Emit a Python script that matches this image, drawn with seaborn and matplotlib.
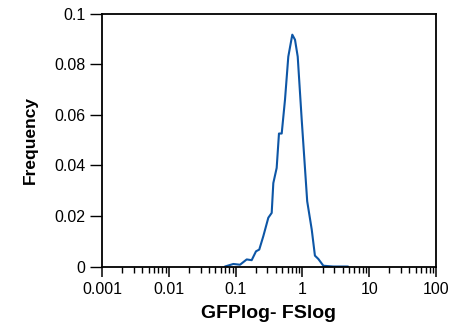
import matplotlib
matplotlib.use("Agg")
import matplotlib.pyplot as plt
from matplotlib.ticker import FixedLocator, FixedFormatter, LogLocator, NullFormatter
import seaborn as sns
import pandas as pd

# GFP/FS ratio distribution (log-binned frequency)
ratio = [0.0693, 0.0925, 0.1164, 0.1466, 0.174, 0.202, 0.226, 0.260, 0.309,
         0.347, 0.367, 0.412, 0.446, 0.490, 0.549, 0.615, 0.706, 0.775,
         0.851, 0.977, 1.18, 1.38, 1.54, 1.73, 2.06, 2.90, 4.82]
frequency = [0.0, 0.001, 0.0007, 0.0028, 0.0025, 0.006, 0.0067, 0.012, 0.0193,
             0.0212, 0.033, 0.039, 0.0526, 0.0526, 0.066, 0.083, 0.0917, 0.0897,
             0.083, 0.058, 0.0258, 0.0146, 0.0043, 0.003, 0.0003, 0.0, 0.0]

x_ticks = [0.001, 0.01, 0.1, 1, 10, 100]
x_tick_labels = ["0.001", "0.01", "0.1", "1", "10", "100"]
y_ticks = [0, 0.02, 0.04, 0.06, 0.08, 0.1]
y_tick_labels = ["0", "0.02", "0.04", "0.06", "0.08", "0.1"]

df = pd.DataFrame({"ratio": ratio, "frequency": frequency})

sns.set_style("ticks")
plt.rcParams["font.family"] = ["Liberation Sans", "DejaVu Sans"]
plt.rcParams["text.color"] = "black"
plt.rcParams["axes.labelcolor"] = "black"
plt.rcParams["xtick.color"] = "black"
plt.rcParams["ytick.color"] = "black"

fig = plt.figure(figsize=(4.51, 3.23), dpi=100)
ax = fig.add_axes([0.2262, 0.1749, 0.9667 - 0.2262, 0.9576 - 0.1749])

sns.lineplot(data=df, x="ratio", y="frequency", ax=ax, color="#0d56a6",
             linewidth=1.5, estimator=None, sort=False)

ax.set_xscale("log")
ax.set_xlim(0.001, 100)
ax.set_ylim(0, 0.1)

ax.xaxis.set_major_locator(FixedLocator(x_ticks))
ax.xaxis.set_major_formatter(FixedFormatter(x_tick_labels))
ax.xaxis.set_minor_locator(LogLocator(base=10, subs=range(2, 10), numticks=20))
ax.xaxis.set_minor_formatter(NullFormatter())
ax.yaxis.set_major_locator(FixedLocator(y_ticks))
ax.yaxis.set_major_formatter(FixedFormatter(y_tick_labels))

for side in ["left", "bottom", "top", "right"]:
    ax.spines[side].set_visible(True)
    ax.spines[side].set_color("black")
    ax.spines[side].set_linewidth(1.3)

ax.tick_params(axis="x", which="major", direction="out", length=7, width=1.1,
               labelsize=11.5, pad=4, top=False, colors="black")
ax.tick_params(axis="x", which="minor", direction="out", length=4, width=1.0,
               top=False, colors="black")
ax.tick_params(axis="y", which="major", direction="out", length=9, width=1.0,
               labelsize=11.5, pad=3, right=False, colors="black")

ax.set_xlabel("GFPlog- FSlog", fontsize=14, fontweight="bold", labelpad=6,
              color="black")
ax.set_ylabel("Frequency", fontsize=12.5, fontweight="bold", labelpad=12,
              color="black")

fig.savefig("out.png", dpi=100)
